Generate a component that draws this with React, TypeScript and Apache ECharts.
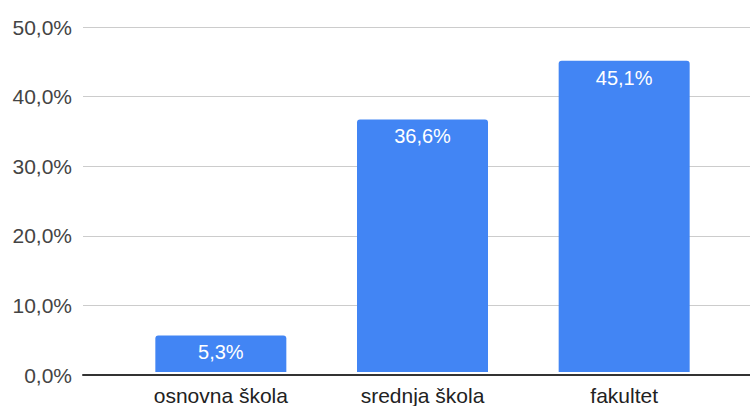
import React, { useEffect, useRef } from "react";
import * as echarts from "echarts";

const categories = ["osnovna škola", "srednja škola", "fakultet"];
const values = [0.053, 0.366, 0.451];
const yTicks = [0, 0.1, 0.2, 0.3, 0.4, 0.5];

const fmtPct = (v: number) => (v * 100).toFixed(1).replace(".", ",") + "%";

export default function App() {
  const ref = useRef<HTMLDivElement>(null);
  useEffect(() => {
    const chart = echarts.init(ref.current!, null, { renderer: "svg" });
    const font = "'Liberation Sans', Arial, sans-serif";
    chart.setOption({
      animation: false,
      grid: [
        { left: 83, right: 0, top: 27, bottom: 31 },
        { left: 120, right: 25, top: 27, bottom: 31 },
      ],
      xAxis: [
        {
          type: "category",
          gridIndex: 0,
          data: [""],
          axisLine: { show: true, lineStyle: { color: "#333", width: 2 } },
          axisTick: { show: false },
          axisLabel: { show: false },
        },
        {
          type: "category",
          gridIndex: 1,
          data: categories,
          axisLine: { show: false },
          axisTick: { show: false },
          axisLabel: {
            color: "#222",
            fontSize: 21,
            fontFamily: font,
            margin: 13,
          },
        },
      ],
      yAxis: [
        {
          type: "value",
          gridIndex: 0,
          min: 0,
          max: yTicks[yTicks.length - 1],
          interval: 0.1,
          axisLine: { show: false },
          axisTick: { show: false },
          axisLabel: {
            color: "#444",
            fontSize: 21,
            fontFamily: font,
            margin: 11,
            formatter: (v: number) => fmtPct(v),
          },
          splitLine: { lineStyle: { color: "#ccc", width: 1 } },
        },
        {
          type: "value",
          gridIndex: 1,
          min: 0,
          max: yTicks[yTicks.length - 1],
          interval: 0.1,
          show: false,
          splitLine: { show: false },
        },
      ],
      series: [
        {
          type: "bar",
          xAxisIndex: 1,
          yAxisIndex: 1,
          data: values,
          barWidth: 131,
          itemStyle: { color: "#4285F4", borderRadius: [3, 3, 0, 0] },
          label: {
            show: true,
            position: "insideTop",
            distance: 7,
            color: "#fff",
            fontSize: 20,
            fontFamily: font,
            formatter: (p: any) => fmtPct(p.value),
          },
        },
      ],
    });
    return () => chart.dispose();
  }, []);
  return <div ref={ref} style={{ width: 750, height: 406, position: "absolute", left: 0, top: 0 }} />;
}
